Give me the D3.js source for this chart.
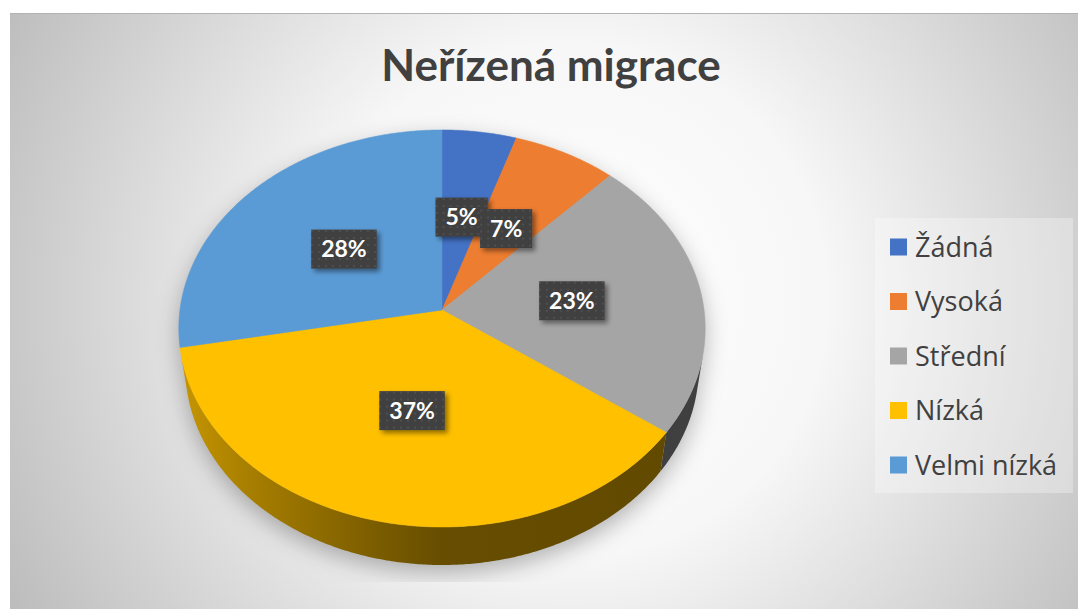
<html>
<head>
<meta charset="utf-8">
<script src="https://d3js.org/d3.v7.min.js"></script>
<style>
  body { margin: 0; background: #fff; }
  text { font-family: Lato, "Open Sans", sans-serif; }
  .legend text { font-family: "Open Sans", Lato, sans-serif; }
</style>
</head>
<body>
<svg id="chart" width="1078" height="609"></svg>
<script>
const categories = ["Žádná", "Vysoká", "Střední", "Nízká", "Velmi nízká"];
const values = [5, 7, 23, 37, 28];
const colors = ["#4472C4", "#ED7D31", "#A5A5A5", "#FFC000", "#5B9BD5"];
const title = "Neřízená migrace";

const svg = d3.select("svg#chart");
const defs = svg.append("defs");

// background
const bg = defs.append("radialGradient").attr("id", "bg")
  .attr("gradientUnits", "userSpaceOnUse")
  .attr("cx", 570).attr("cy", 300).attr("r", 640);
bg.append("stop").attr("offset", 0).attr("stop-color", "#ffffff");
bg.append("stop").attr("offset", 0.4).attr("stop-color", "#f7f7f7");
bg.append("stop").attr("offset", 1).attr("stop-color", "#bcbcbc");

svg.append("rect").attr("x", 10).attr("y", 13).attr("width", 1068).attr("height", 596)
  .attr("fill", "url(#bg)");
svg.append("line").attr("x1", 10).attr("x2", 1078).attr("y1", 13.5).attr("y2", 13.5)
  .attr("stroke", "#b3b3b3");

// perspective projection of the pie
const cx = 442, cy = 310, F = 1858, Dc = 7.09, alpha = Math.asin(0.751), H = 0.236;
function proj(phi, r, h) {
  const x = r * Math.sin(phi), z = r * Math.cos(phi), y = h;
  const rx = x, ry = y - Dc * Math.sin(alpha), rz = z + Dc * Math.cos(alpha);
  const depth = -ry * Math.sin(alpha) + rz * Math.cos(alpha);
  const sy = ry * Math.cos(alpha) + rz * Math.sin(alpha);
  return [cx + F * rx / depth, cy - F * sy / depth];
}
const phiMin = Math.acos(-1 / (Dc * Math.cos(alpha)));
const phiMax = 2 * Math.PI - phiMin;
const step = Math.PI / 360;
function arcPts(a0, a1, h) {
  const pts = [];
  const n = Math.max(2, Math.ceil(Math.abs(a1 - a0) / step));
  for (let i = 0; i <= n; i++) pts.push(proj(a0 + (a1 - a0) * i / n, 1, h));
  return pts;
}
const line = d3.line();

const color = d3.scaleOrdinal().domain(categories).range(colors);
const pie = d3.pie().sort(null).value(d => d.value);
const arcs = pie(categories.map((c, i) => ({ name: c, value: values[i] })));

// shadow
defs.append("filter").attr("id", "blur").attr("x", "-20%").attr("y", "-20%")
  .attr("width", "140%").attr("height", "140%")
  .append("feGaussianBlur").attr("stdDeviation", 11);
defs.append("clipPath").attr("id", "shclip").append("rect")
  .attr("x", 0).attr("y", 0).attr("width", 1078).attr("height", 582);
const shadowPts = arcPts(0, 2 * Math.PI, 0);
const wallFull = arcPts(phiMin, phiMax, 0).concat(arcPts(phiMax, phiMin, -H));
const sh = svg.append("g").attr("clip-path", "url(#shclip)");
sh.append("g").attr("filter", "url(#blur)").attr("transform", "translate(0,8)")
  .selectAll("path").data([shadowPts, wallFull]).join("path")
  .attr("d", d => line(d) + "Z").attr("fill", "#000").attr("opacity", 0.28);

// walls
const shade = [[0, 0.78], [0.13, 0.66], [0.38, 0.48], [0.5, 0.40], [1, 0.38]];
const pieG = svg.append("g");
arcs.forEach((a, i) => {
  const s = Math.max(a.startAngle, phiMin), e = Math.min(a.endAngle, phiMax);
  if (e <= s) return;
  const base = d3.rgb(color(a.data.name));
  const g = defs.append("linearGradient").attr("id", "wall" + i)
    .attr("gradientUnits", "userSpaceOnUse").attr("x1", 178).attr("x2", 706).attr("y1", 0).attr("y2", 0);
  shade.forEach(([o, f]) => {
    g.append("stop").attr("offset", o)
      .attr("stop-color", d3.rgb(base.r * f, base.g * f, base.b * f).formatHex());
  });
  const pts = arcPts(s, e, 0).concat(arcPts(e, s, -H));
  pieG.append("path").attr("d", line(pts) + "Z").attr("fill", `url(#wall${i})`);
});

// top faces
pieG.selectAll("path.top").data(arcs).join("path").attr("class", "top")
  .attr("d", a => line([proj(0, 0, 0)].concat(arcPts(a.startAngle, a.endAngle, 0))) + "Z")
  .attr("fill", a => color(a.data.name))
  .attr("stroke", a => color(a.data.name)).attr("stroke-width", 0.5);

// data labels
const pat = defs.append("pattern").attr("id", "dots").attr("patternUnits", "userSpaceOnUse")
  .attr("width", 7).attr("height", 7);
pat.append("rect").attr("width", 7).attr("height", 7).attr("fill", "#404040");
pat.append("rect").attr("x", 2).attr("y", 2).attr("width", 2).attr("height", 2).attr("fill", "#4f4f4f");
defs.append("filter").attr("id", "lblsh").attr("x", "-30%").attr("y", "-30%")
  .attr("width", "160%").attr("height", "160%")
  .append("feDropShadow").attr("dx", 3).attr("dy", 3).attr("stdDeviation", 2.5)
  .attr("flood-color", "#000").attr("flood-opacity", 0.45);

const total = d3.sum(values);
const lbl = svg.append("g").selectAll("g").data(arcs).join("g")
  .attr("transform", a => {
    const p = proj((a.startAngle + a.endAngle) / 2, 0.5, 0);
    return `translate(${p[0]},${p[1]})`;
  });
lbl.append("rect").attr("filter", "url(#lblsh)").attr("fill", "url(#dots)");
lbl.append("text").attr("text-anchor", "middle").attr("dy", "0.36em")
  .attr("fill", "#fff").attr("font-weight", "bold").attr("font-size", 23)
  .text(a => Math.round(a.data.value / total * 100) + "%");
lbl.each(function () {
  const t = d3.select(this).select("text").node().getBBox();
  d3.select(this).select("rect")
    .attr("x", -t.width / 2 - 10).attr("y", -19.5)
    .attr("width", t.width + 20).attr("height", 39);
});

// title
svg.append("text").attr("x", 551).attr("y", 81).attr("text-anchor", "middle")
  .attr("font-size", 44).attr("font-weight", "bold").attr("fill", "#404040")
  .text(title);

// legend
svg.append("rect").attr("x", 875).attr("y", 218).attr("width", 198).attr("height", 275)
  .attr("fill", "#fff").attr("opacity", 0.3);
const ly = d3.scalePoint().domain(categories).range([247, 465]);
const leg = svg.append("g").attr("class", "legend").selectAll("g").data(categories).join("g")
  .attr("transform", d => `translate(890,${ly(d)})`);
leg.append("rect").attr("x", 0).attr("y", -8.5).attr("width", 17).attr("height", 17)
  .attr("fill", d => color(d));
leg.append("text").attr("x", 25).attr("dy", "0.36em").attr("font-size", 27)
  .attr("fill", "#404040").text(d => d);
</script>
</body>
</html>
